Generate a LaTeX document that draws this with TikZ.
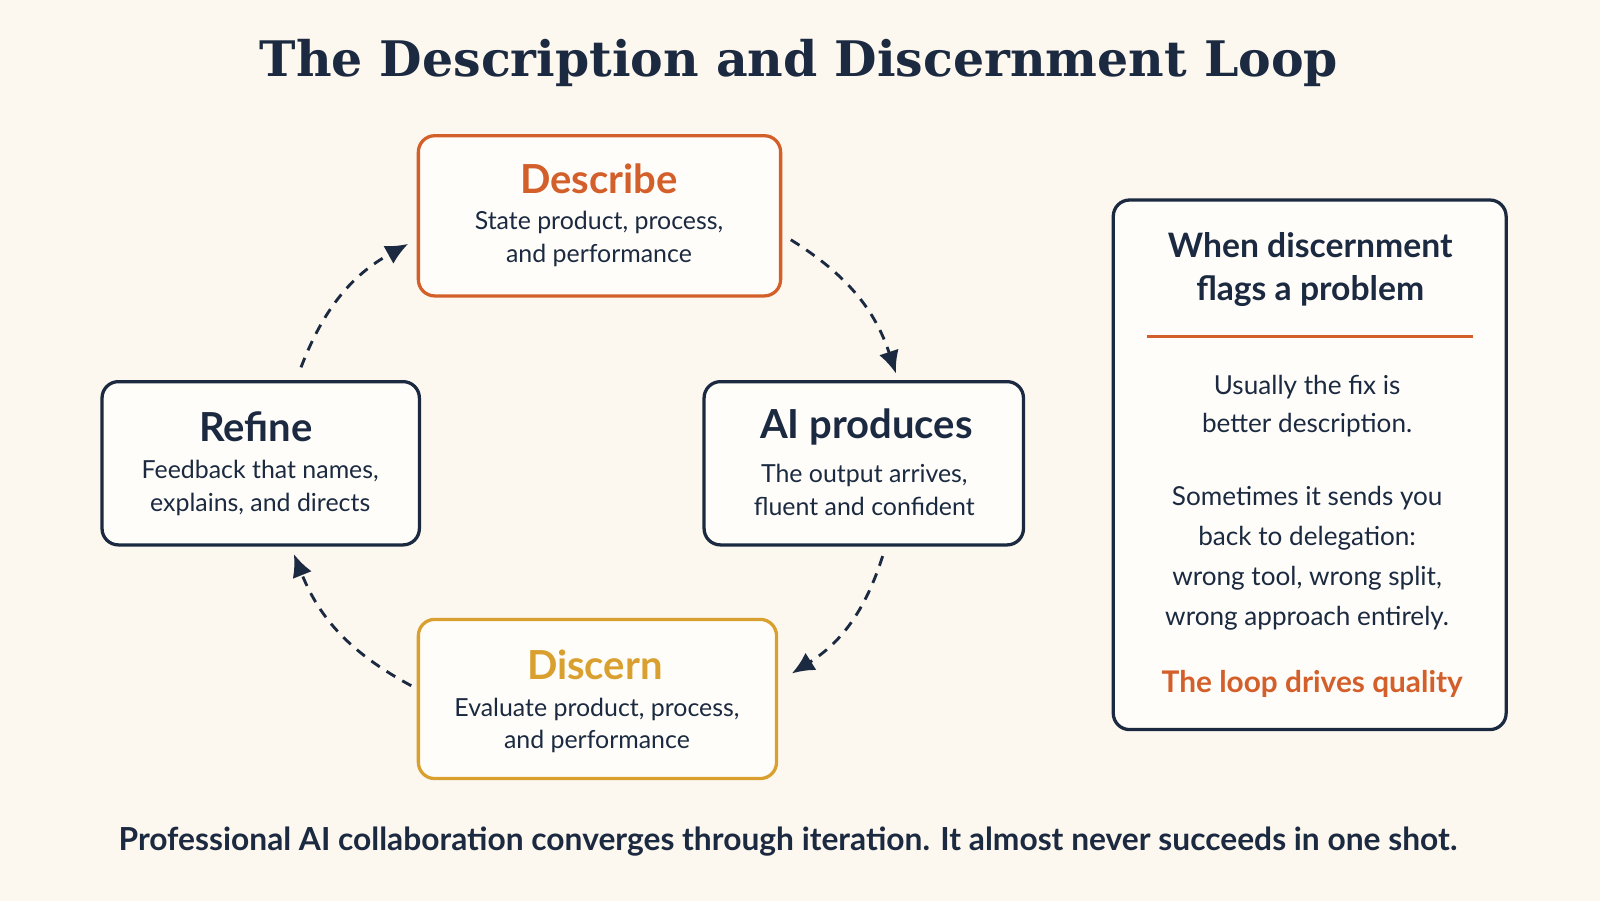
\documentclass[tikz,border=0pt]{standalone}
\usepackage{fontspec}
\setmainfont{Lato}
\newfontfamily\titlefont{DejaVu Serif}
\usetikzlibrary{arrows.meta}
\definecolor{bg}{HTML}{FCF7EF}
\definecolor{navy}{HTML}{1B2A40}
\definecolor{org}{HTML}{D35F2A}
\definecolor{gold}{HTML}{D9A030}
\definecolor{boxbg}{HTML}{FFFDF9}
\begin{document}
\begin{tikzpicture}[x=0.5pt,y=-0.5pt,
 box/.style={draw=#1,line width=1.6pt,rounded corners=8pt,fill=boxbg},
 head/.style={font=\fontsize{19.6}{22}\selectfont\bfseries,text=#1},
 body/.style={font=\fontsize{12.2}{16}\selectfont,text=navy,align=center},
 arr/.style={navy,line width=1.4pt,dash pattern=on 5pt off 4pt,-{Latex[length=11pt,width=10pt]}}]
\fill[bg] (0,0) rectangle (1568,883);
\node[font=\titlefont\fontsize{24}{28}\selectfont\bfseries,text=navy] (title) at (783,62) {The Description and Discernment Loop};
% boxes
\draw[box=org] (410,133) rectangle (765,290);
\node[head=org] (dh) at (587,175) {Describe};
\node[body] (db) at (587,234) {State product, process,\\and performance};
\draw[box=navy] (690,374) rectangle (1003,534);
\node[head=navy] (ah) at (849,418) {AI produces};
\node[body] (ab) at (847,480) {The output arrives,\\fluent and confident};
\draw[box=navy] (100,374) rectangle (411,534);
\node[head=navy] (rh) at (251,418) {Refine};
\node[body] (rb) at (255,478) {Feedback that names,\\explains, and directs};
\draw[box=gold] (410,607) rectangle (761,763);
\node[head=gold] (sh) at (583,652) {Discern};
\node[body] (sb) at (585,711) {Evaluate product, process,\\and performance};
\coordinate (a1) at (775,235); \coordinate (a2) at (878,366);
\coordinate (b1) at (865,545); \coordinate (b2) at (776,660);
\coordinate (c1) at (403,672); \coordinate (c2) at (288,543);
\coordinate (d1) at (295,360); \coordinate (d2) at (400,239);
\draw[arr] (a1) to[bend left=20] (a2);
\draw[arr] (b1) to[bend left=20] (b2);
\draw[arr] (c1) to[bend left=20] (c2);
\draw[arr] (d1) to[bend left=20] (d2);
% right box
\draw[box=navy] (1091,196) rectangle (1476,715);
\node[font=\fontsize{16.5}{21}\selectfont\bfseries,text=navy,align=center] (rt) at (1284,264) {When discernment\\flags a problem};
\draw[org,line width=1.5pt] (1124,330) -- (1444,330);
\node[body,font=\fontsize{12.8}{19}\selectfont] (r1) at (1281,398) {Usually the fix is\\better description.};
\node[body,font=\fontsize{12.8}{19.5}\selectfont] (r2) at (1281,547) {Sometimes it sends you\\back to delegation:\\wrong tool, wrong split,\\wrong approach entirely.};
\node[font=\fontsize{14.6}{17}\selectfont\bfseries,text=org] (r3) at (1286,670) {The loop drives quality};
\node[font=\fontsize{15.55}{18}\selectfont\bfseries,text=navy] (bot) at (772,825) {Professional AI collaboration converges through iteration. It almost never succeeds in one shot.};
\end{tikzpicture}
\end{document}
